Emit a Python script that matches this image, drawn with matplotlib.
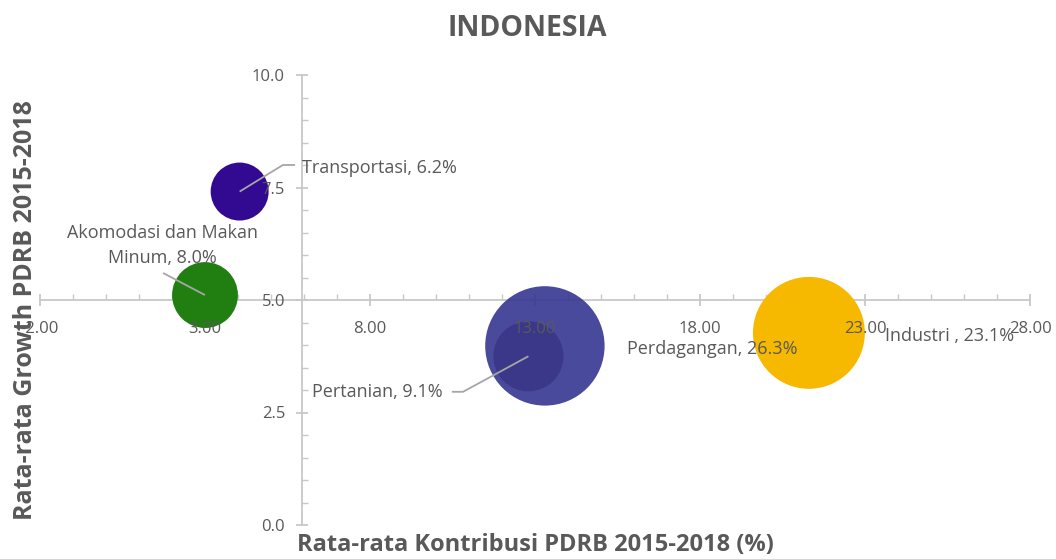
import matplotlib
matplotlib.use("Agg")
import matplotlib.pyplot as plt
from matplotlib.ticker import MultipleLocator, FixedLocator

# ---------------- data ----------------
sectors = ["Industri ", "Perdagangan", "Pertanian", "Transportasi", "Akomodasi dan Makan\nMinum"]
contribution = [21.3, 13.3, 12.8, 4.05, 3.0]      # x: Rata-rata Kontribusi PDRB (%)
growth = [4.27, 3.98, 3.75, 7.41, 5.11]           # y: Rata-rata Growth PDRB
share = [23.1, 26.3, 9.1, 6.2, 8.0]               # bubble size / label value
x_ticks = [-2, 3, 8, 13, 18, 23, 28]
y_ticks = [0.0, 2.5, 5.0, 7.5, 10.0]
title = "INDONESIA"
x_title = "Rata-rata Kontribusi PDRB 2015-2018 (%)"
y_title = "Rata-rata Growth PDRB 2015-2018"

# ---------------- style ----------------
colors = ["#F7B800", "#363692", "#3C3889", "#320A91", "#217F12"]
alphas = [1.0, 0.9, 1.0, 1.0, 1.0]
FONT = ["Open Sans", "DejaVu Sans"]
plt.rcParams["font.family"] = FONT
TXT = "#595959"
AX = "#C8C8C8"
size_scale = 281.0  # points^2 per percent
Y_CROSS_X = 5.93   # where the vertical axis crosses
X_CROSS_Y = 5.0    # where the horizontal axis crosses

label_layout = {
    "Industri ": dict(text=(23.6, 4.20), ha="left", leader=None),
    "Perdagangan": dict(text=(15.79, 3.91), ha="left", leader=None),
    "Pertanian": dict(text=(10.21, 2.96), ha="right", leader=[(10.48, 2.96), (10.82, 2.96)]),
    "Transportasi": dict(text=(5.94, 7.93), ha="left", leader=[(5.73, 8.0), (5.36, 8.0)]),
    "Akomodasi dan Makan\nMinum": dict(text=(1.70, 6.21), ha="center", leader=[(1.73, 5.6)]),
}

fig = plt.figure(figsize=(10.56, 5.59), dpi=100)
rect = [40 / 1056, 1 - 525 / 559, 990 / 1056, 450 / 559]
ax = fig.add_axes(rect)

for name, xv, yv, s, c, a in zip(sectors, contribution, growth, share, colors, alphas):
    ax.scatter([xv], [yv], s=s * size_scale, color=c, alpha=a, edgecolors="none", zorder=1)

for name, xv, yv, s in zip(sectors, contribution, growth, share):
    lay = label_layout[name]
    if lay["leader"]:
        pts = list(lay["leader"]) + [(xv, yv)]
        ax.plot([p[0] for p in pts], [p[1] for p in pts], color="#A6A6A6", lw=1.3,
                zorder=4, solid_capstyle="butt")
    ax.text(lay["text"][0], lay["text"][1], f"{name}, {s:.1f}%", ha=lay["ha"], va="center",
            fontsize=13, color=TXT, zorder=5, linespacing=1.45)

def style_axes(a, show_lines):
    a.set_xlim(-2, 28)
    a.set_ylim(0, 10)
    for sp in ["top", "right"]:
        a.spines[sp].set_visible(False)
    a.spines["left"].set_position(("data", Y_CROSS_X))
    a.spines["bottom"].set_position(("data", X_CROSS_Y))
    for sp in ["left", "bottom"]:
        a.spines[sp].set_color(AX)
        a.spines[sp].set_linewidth(1.3)
        a.spines[sp].set_zorder(0.5)
        a.spines[sp].set_visible(show_lines)
    a.xaxis.set_major_locator(FixedLocator(x_ticks))
    a.xaxis.set_minor_locator(MultipleLocator(1))
    a.yaxis.set_major_locator(FixedLocator(y_ticks))
    a.yaxis.set_minor_locator(MultipleLocator(0.5))

# base axes: lines and tick marks (below bubbles)
style_axes(ax, True)
ax.tick_params(axis="both", which="both", labelbottom=False, labelleft=False)
ax.tick_params(axis="both", which="major", direction="inout", length=9, width=1.3, color=AX)
ax.tick_params(axis="both", which="minor", direction="in", length=4, width=1.0, color=AX)
ax.xaxis.set_zorder(0.5)
ax.yaxis.set_zorder(0.5)

# overlay axes: tick labels (above bubbles)
ax2 = fig.add_axes(rect)
ax2.patch.set_visible(False)
style_axes(ax2, False)
ax2.set_xticklabels([f"{v:.2f}" for v in x_ticks])
ax2.set_yticklabels([f"{v:.1f}" for v in y_ticks])
ax2.tick_params(axis="both", which="both", length=0, labelcolor=TXT, labelsize=12)
ax2.tick_params(axis="x", which="major", pad=15)
ax2.tick_params(axis="y", which="major", pad=12)

ax2.set_xlabel(x_title, fontsize=17, fontweight="bold", color=TXT)
ax2.set_ylabel(y_title, fontsize=18, fontweight="bold", color=TXT)
ax2.xaxis.set_label_coords(0.5, (525 - 533) / 450)
ax2.xaxis.label.set_va("top")
ax2.yaxis.set_label_coords((38 - 40) / 990, (525 - 310) / 450)

fig.text(527 / 1056, 1 - 28 / 559, title, ha="center", va="center", fontsize=20.5,
         fontweight="bold", color=TXT)

fig.savefig("out.png", dpi=100)
